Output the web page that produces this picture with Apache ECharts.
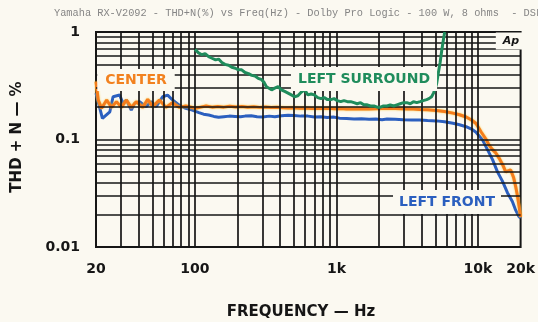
<!DOCTYPE html>
<html>
<head>
<meta charset="utf-8">
<script src="https://cdn.jsdelivr.net/npm/echarts@6/dist/echarts.min.js"></script>
<style>
  html, body { margin: 0; padding: 0; background: #fbf9f1; }
  #chart { width: 538px; height: 322px; }
</style>
</head>
<body>
<div id="chart"></div>
<script>
// THD+N (%) versus frequency (Hz), three channels measured in Dolby Pro Logic mode.
const centerData = [
  [20, 0.345], [20.75, 0.233], [21.9, 0.195], [23.8, 0.233], [25.75, 0.199], [27.9, 0.225],
  [30.25, 0.199], [32.8, 0.233], [35.5, 0.199], [38.5, 0.225], [42.8, 0.199], [46.4, 0.237],
  [50.3, 0.202], [56.1, 0.233], [62.4, 0.199], [69.4, 0.22], [77.4, 0.199], [86.1, 0.205],
  [101, 0.195], [110, 0.2], [120, 0.205], [132, 0.2], [145, 0.203], [160, 0.2], [176, 0.204],
  [195, 0.201], [215, 0.203], [236, 0.2], [260, 0.202], [286, 0.199], [315, 0.201], [346, 0.198],
  [380, 0.2], [420, 0.197], [455, 0.196], [500, 0.197], [550, 0.195], [605, 0.196], [665, 0.194],
  [730, 0.195], [800, 0.194], [880, 0.195], [970, 0.193], [1070, 0.194], [1180, 0.192],
  [1330, 0.192], [1500, 0.193], [1700, 0.192], [1900, 0.193], [2100, 0.194], [2300, 0.195],
  [2600, 0.194], [2900, 0.193], [3200, 0.192], [3500, 0.192], [3873, 0.19], [4400, 0.189],
  [5089, 0.186], [5800, 0.182], [6653, 0.176], [7400, 0.17], [8246, 0.162], [9000, 0.152],
  [9686, 0.141], [10500, 0.118], [11420, 0.1], [11940, 0.089], [12600, 0.081], [13360, 0.075],
  [14200, 0.066], [14960, 0.058], [15700, 0.05], [16300, 0.051], [17010, 0.052], [17870, 0.044],
  [18500, 0.036], [18960, 0.0305], [19500, 0.024], [20000, 0.019]
];

const leftFrontData = [
  [20, 0.27], [22.2, 0.157], [25.05, 0.181], [26.4, 0.25], [29.4, 0.259], [31.0, 0.217],
  [32.8, 0.233], [35.5, 0.188], [37.5, 0.217], [40.6, 0.225], [45.2, 0.202], [49.1, 0.225],
  [53.2, 0.202], [59.1, 0.25], [64.1, 0.259], [69.5, 0.233], [77.4, 0.209], [86.1, 0.195],
  [95.8, 0.188], [106.7, 0.178], [115, 0.172], [125, 0.169], [136, 0.164], [147, 0.161],
  [160, 0.163], [175, 0.165], [192, 0.164], [210, 0.163], [226, 0.165], [250, 0.166],
  [275, 0.163], [300, 0.162], [335, 0.165], [367, 0.163], [410, 0.166], [455, 0.168],
  [500, 0.167], [560, 0.165], [629, 0.165], [700, 0.162], [777, 0.163], [860, 0.16],
  [950, 0.162], [1050, 0.158], [1180, 0.157], [1331, 0.155], [1500, 0.156], [1700, 0.154],
  [1900, 0.155], [2100, 0.153], [2276, 0.155], [2600, 0.154], [2950, 0.153], [3400, 0.152],
  [3873, 0.152], [4400, 0.15], [5089, 0.149], [5800, 0.146], [6653, 0.1415], [7400, 0.137],
  [8246, 0.1315], [9000, 0.125], [9686, 0.117], [10200, 0.108], [10790, 0.099], [11690, 0.08],
  [12670, 0.065], [13730, 0.05], [14880, 0.041], [16140, 0.032], [17490, 0.0265],
  [18460, 0.022], [19460, 0.0192], [20000, 0.0185]
];

const leftSurroundData = [
  [100, 0.69], [106, 0.64], [112, 0.615], [118, 0.63], [125, 0.59], [132, 0.57], [140, 0.55],
  [147, 0.56], [155, 0.52], [163, 0.5], [173, 0.49], [182, 0.47], [193, 0.46], [203, 0.445],
  [214, 0.445], [226, 0.42], [239, 0.41], [252, 0.395], [266, 0.39], [280, 0.37], [296, 0.36],
  [308, 0.34], [320, 0.31], [334, 0.3], [348, 0.29], [366, 0.3], [387, 0.31], [408, 0.29],
  [431, 0.28], [455, 0.27], [480, 0.26], [505, 0.25], [534, 0.255], [563, 0.275], [595, 0.29],
  [628, 0.26], [662, 0.265], [698, 0.26], [737, 0.245], [777, 0.24], [820, 0.245], [865, 0.235],
  [913, 0.235], [962, 0.24], [1015, 0.23], [1072, 0.225], [1130, 0.23], [1195, 0.225],
  [1260, 0.225], [1330, 0.22], [1400, 0.215], [1480, 0.22], [1560, 0.21], [1650, 0.21],
  [1739, 0.205], [1840, 0.205], [1940, 0.2], [2043, 0.2], [2150, 0.205], [2276, 0.205],
  [2400, 0.21], [2540, 0.205], [2673, 0.21], [2820, 0.215], [2980, 0.22], [3141, 0.22],
  [3320, 0.215], [3500, 0.225], [3690, 0.22], [3900, 0.225], [4100, 0.23], [4335, 0.235],
  [4500, 0.24], [4700, 0.25], [4850, 0.27], [5000, 0.3], [5100, 0.33], [5250, 0.42],
  [5400, 0.52], [5550, 0.68], [5700, 0.85], [5820, 1.0]
];

// Grid lines of the log-log chart paper
const freqGrid = [30, 40, 50, 60, 70, 80, 90, 100, 200, 300, 400, 500, 600, 700, 800, 900,
  1000, 2000, 3000, 4000, 5000, 6000, 7000, 8000, 9000, 10000];
const thdGrid = [0.02, 0.03, 0.04, 0.05, 0.06, 0.07, 0.08, 0.09, 0.1,
  0.2, 0.3, 0.4, 0.5, 0.6, 0.7, 0.8, 0.9];

const freqTickLabels = { 20: '20', 100: '100', 1000: '1k', 10000: '10k', 20000: '20k' };
const thdTickLabels = { 0.01: '0.01', 0.1: '0.1', 1: '1' };

const INK = '#161616';
const BOLD = 'DejaVu Sans';

const chart = echarts.init(document.getElementById('chart'), null, { renderer: 'canvas' });

const gridLines = [];
freqGrid.forEach(function (f) { gridLines.push({ xAxis: f }); });
thdGrid.forEach(function (v) { gridLines.push({ yAxis: v }); });

chart.setOption({
  backgroundColor: '#fbf9f1',
  animation: false,
  grid: {
    left: 96, right: 13, top: 32, bottom: 75,
    show: true, borderColor: INK, borderWidth: 2, backgroundColor: 'transparent'
  },
  xAxis: {
    type: 'log', logBase: 10, min: 20, max: 20000,
    axisLine: { show: false },
    axisTick: { show: false },
    splitLine: { show: false },
    minorTick: { show: false },
    axisLabel: {
      margin: 15, color: INK, fontFamily: BOLD, fontWeight: 'bold', fontSize: 14,
      showMinLabel: true, showMaxLabel: true,
      formatter: function (v) {
        const r = Math.round(v);
        return freqTickLabels[r] !== undefined ? freqTickLabels[r] : '';
      }
    }
  },
  yAxis: {
    type: 'log', logBase: 10, min: 0.01, max: 1,
    axisLine: { show: false },
    axisTick: { show: false },
    splitLine: { show: false },
    axisLabel: {
      margin: 16, color: INK, fontFamily: BOLD, fontWeight: 'bold', fontSize: 14,
      formatter: function (v) {
        const key = Number(v.toPrecision(3));
        return thdTickLabels[key] !== undefined ? thdTickLabels[key] : '';
      }
    }
  },
  series: [
    {
      name: 'grid', type: 'line', data: [], silent: true, z: 1,
      markLine: {
        silent: true, symbol: ['none', 'none'], animation: false,
        label: { show: false },
        lineStyle: { color: INK, width: 1.7, type: 'solid' },
        data: gridLines
      }
    },
    {
      name: 'LEFT FRONT', type: 'line', data: leftFrontData, showSymbol: false, z: 3,
      lineStyle: { color: '#2b5fbf', width: 3 }
    },
    {
      name: 'CENTER', type: 'line', data: centerData, showSymbol: false, z: 4,
      lineStyle: { color: '#f47c1c', width: 3, shadowColor: 'rgba(250,196,40,0.9)', shadowBlur: 2 }
    },
    {
      name: 'LEFT SURROUND', type: 'line', data: leftSurroundData, showSymbol: false, z: 5,
      lineStyle: { color: '#1f8c5c', width: 3 }
    }
  ],
  graphic: [
    {
      type: 'text', left: 54, top: 8, silent: true,
      style: {
        text: 'Yamaha RX-V2092 - THD+N(%) vs Freq(Hz) - Dolby Pro Logic - 100 W, 8 ohms  - DSL',
        font: '10.3px "Liberation Mono"', fill: '#858585'
      }
    },
    {
      type: 'text', x: 17, y: 137, rotation: Math.PI / 2, silent: true,
      style: {
        text: 'THD + N \u2014 %', font: 'bold 15px "DejaVu Sans"', fill: INK,
        align: 'center', verticalAlign: 'middle'
      }
    },
    {
      type: 'text', x: 301, y: 312, silent: true,
      style: {
        text: 'FREQUENCY \u2014 Hz', font: 'bold 15px "DejaVu Sans"', fill: INK,
        align: 'center', verticalAlign: 'middle'
      }
    },
    {
      type: 'text', x: 136, y: 80, z: 10, silent: true,
      style: {
        text: 'CENTER', font: 'bold 14px "DejaVu Sans"', fill: '#f2811f',
        align: 'center', verticalAlign: 'middle',
        backgroundColor: '#fbf9f1', padding: [4, 8, 4, 8]
      }
    },
    {
      type: 'text', x: 364, y: 79, z: 10, silent: true,
      style: {
        text: 'LEFT SURROUND', font: 'bold 14px "DejaVu Sans"', fill: '#1f8c5c',
        align: 'center', verticalAlign: 'middle',
        backgroundColor: '#fbf9f1', padding: [5, 7, 5, 7]
      }
    },
    {
      type: 'text', x: 447, y: 202, z: 10, silent: true,
      style: {
        text: 'LEFT FRONT', font: 'bold 14px "DejaVu Sans"', fill: '#2b5fbf',
        align: 'center', verticalAlign: 'middle',
        backgroundColor: '#fbf9f1', padding: [5, 6, 5, 6]
      }
    },
    {
      type: 'text', x: 511, y: 41, z: 10, silent: true,
      style: {
        text: 'Ap', font: 'italic bold 11px "DejaVu Sans"', fill: INK,
        align: 'center', verticalAlign: 'middle',
        backgroundColor: '#fbf9f1', padding: [3, 7, 3, 7]
      }
    }
  ]
});
</script>
</body>
</html>
